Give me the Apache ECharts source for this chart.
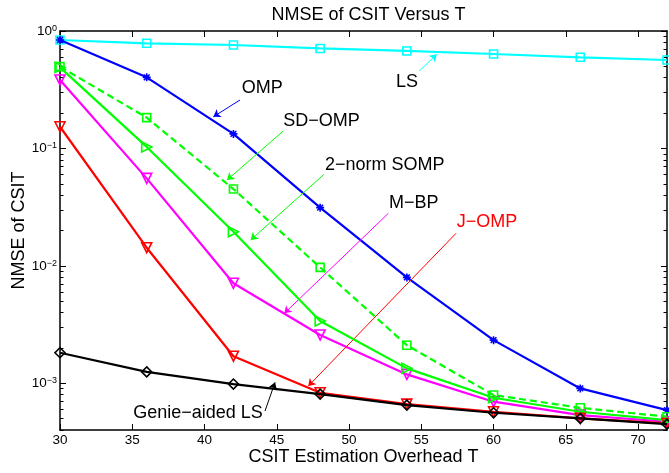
<!DOCTYPE html>
<html>
<head>
<meta charset="utf-8">
<script src="https://cdn.jsdelivr.net/npm/echarts@6/dist/echarts.min.js"></script>
<style>
html,body{margin:0;padding:0;background:#fff;}
#chart{width:669px;height:473px;}
</style>
</head>
<body>
<div id="chart"></div>
<script>
// ---- data ----
const T = [30, 36, 42, 48, 54, 60, 66, 72];
const lsVals = [0.838, 0.786, 0.76, 0.71, 0.676, 0.637, 0.597, 0.566];
const ompVals = [0.838, 0.403, 0.133, 0.0313, 0.00797, 0.00233, 9.04e-4, 5.9e-4];
const sdOmpVals = [0.497, 0.183, 0.0451, 0.0097, 0.00211, 7.94e-4, 6.18e-4, 5.19e-4];
const sompVals = [0.49, 0.103, 0.0195, 0.00339, 0.00134, 7.53e-4, 5.72e-4, 4.86e-4];
const mbpVals = [0.383, 0.0556, 0.0071, 0.00258, 0.00119, 6.97e-4, 5.36e-4, 4.7e-4];
const jompVals = [0.153, 0.01427, 0.0017, 8.3e-4, 6.65e-4, 5.72e-4, 5.02e-4, 4.55e-4];
const genieVals = [0.00182, 0.00125, 9.85e-4, 8.09e-4, 6.52e-4, 5.61e-4, 5.02e-4, 4.49e-4];

const xTicks = [30, 35, 40, 45, 50, 55, 60, 65, 70];
const yMajorTicks = [1e-3, 1e-2, 1e-1, 1];
const yMinorTicks = [4e-4,5e-4,6e-4,7e-4,8e-4,9e-4,
  2e-3,3e-3,4e-3,5e-3,6e-3,7e-3,8e-3,9e-3,
  2e-2,3e-2,4e-2,5e-2,6e-2,7e-2,8e-2,9e-2,
  0.2,0.3,0.4,0.5,0.6,0.7,0.8,0.9];

// annotation anchors (data coordinates): text anchor, arrow start, arrow tip
const annText = ['OMP', 'SD\u2212OMP', '2\u2212norm SOMP', 'M\u2212BP', 'J\u2212OMP', 'LS', 'Genie\u2212aided LS'];
const annTextAt = [[42.57, 0.327], [45.45, 0.1712], [48.34, 0.0722], [52.765, 0.0343], [57.45, 0.02375], [53.25, 0.37], [35.07, 5.54e-4]];
const annFrom = [[42.455, 0.2583], [45.45, 0.1407], [48.27, 0.0602], [52.72, 0.028], [57.40, 0.0189], [54.86, 0.456], [44.185, 5.8e-4]];
const annTo = [[40.61, 0.1862], [41.556, 0.0538], [43.195, 0.0166], [45.52, 0.00394], [47.18, 9.47e-4], [56.07, 0.633], [44.877, 1.018e-3]];
const annLineColor = ['#0000FF', '#00FF00', '#00FF00', '#FF00FF', '#FF0000', '#00FFFF', '#000000'];
const annTextColor = ['#000', '#000', '#000', '#000', '#FF0000', '#000', '#000'];

const FONT = "'Liberation Sans', Arial, Helvetica, sans-serif";
const pairs = v => T.map((t, i) => [t, v[i]]);
const star = 'path://M0,-5L0,5M-5,0L5,0M-3.6,-3.6L3.6,3.6M-3.6,3.6L3.6,-3.6';
const rectP = 'path://M-5,-5L5,-5L5,5L-5,5Z';
const diamondP = 'path://M0,-6L4.5,0L0,6L-4.5,0Z';
const triP = 'path://M0,-5L5.2,4L-5.2,4Z';

function mkSeries(name, vals, color, symbol, size, rotate, dashed, z) {
  return {
    name, type: 'line', data: pairs(vals), xAxisIndex: 0, yAxisIndex: 0,
    symbol, symbolSize: size, symbolRotate: rotate || 0, showAllSymbol: true,
    z: z,
    lineStyle: { color, width: 2.2, type: dashed ? [7, 4] : 'solid' },
    itemStyle: { color: 'rgba(0,0,0,0)', borderColor: color, borderWidth: 1.6 },
    emphasis: { disabled: true },
    animation: false
  };
}

function yLabel(v) {
  const e = Math.round(Math.log10(v));
  return '{b|10}{s|' + (e === 0 ? '0' : '\u2212' + (-e)) + '}';
}

const logAxisBase = { type: 'log', logBase: 10, min: 4e-4, max: 1, splitLine: { show: false }, gridIndex: 0 };
const chart = echarts.init(document.getElementById('chart'), null, { renderer: 'canvas' });

const option = {
  animation: false,
  backgroundColor: '#fff',
  textStyle: { fontFamily: FONT },
  title: {
    text: 'NMSE of CSIT Versus T',
    left: 363.5, top: 1, textAlign: 'center',
    textStyle: { fontFamily: FONT, fontSize: 18, fontWeight: 'normal', color: '#000' }
  },
  grid: { left: 60, right: 2, top: 31, bottom: 43, containLabel: false, outerBoundsMode: 'none' },
  xAxis: [
    {
      type: 'value', min: 30, max: 72, position: 'bottom',
      name: 'CSIT Estimation Overhead T', nameLocation: 'middle', nameGap: 18, nameMoveOverlap: false,
      nameTextStyle: { fontFamily: FONT, fontSize: 18, color: '#000' },
      axisLine: { show: true, lineStyle: { color: '#000', width: 1.5 } },
      axisTick: { show: true, inside: true, length: 6, customValues: xTicks, lineStyle: { color: '#000', width: 1 } },
      axisLabel: { show: true, customValues: xTicks, margin: 3, fontFamily: FONT, fontSize: 13.5, color: '#000' },
      splitLine: { show: false }
    },
    {
      type: 'value', min: 30, max: 72, position: 'top',
      axisLine: { show: true, lineStyle: { color: '#000', width: 1.5 } },
      axisTick: { show: true, inside: true, length: 6, customValues: xTicks, lineStyle: { color: '#000', width: 1 } },
      axisLabel: { show: false },
      splitLine: { show: false }
    }
  ],
  yAxis: [
    Object.assign({}, logAxisBase, {
      position: 'left',
      name: 'NMSE of CSIT', nameLocation: 'middle', nameGap: 32, nameRotate: 90, nameMoveOverlap: false,
      nameTextStyle: { fontFamily: FONT, fontSize: 18, color: '#000' },
      axisLine: { show: true, lineStyle: { color: '#000', width: 1.5 } },
      axisTick: { show: true, inside: true, length: 6, customValues: yMajorTicks, lineStyle: { color: '#000', width: 1 } },
      axisLabel: {
        show: true, customValues: yMajorTicks, margin: 3, formatter: yLabel,
        rich: {
          b: { fontFamily: FONT, fontSize: 13.5, color: '#000', lineHeight: 14, verticalAlign: 'bottom' },
          s: { fontFamily: FONT, fontSize: 9, color: '#000', lineHeight: 14, verticalAlign: 'top', padding: [0, 0, 9, 0] }
        }
      }
    }),
    Object.assign({}, logAxisBase, {
      position: 'left', offset: 0,
      axisLine: { show: false },
      axisTick: { show: true, inside: true, length: 3.5, customValues: yMinorTicks, lineStyle: { color: '#000', width: 1 } },
      axisLabel: { show: false }
    }),
    Object.assign({}, logAxisBase, {
      position: 'right', offset: 0,
      axisLine: { show: true, lineStyle: { color: '#000', width: 1.5 } },
      axisTick: { show: true, inside: true, length: 6, customValues: yMajorTicks, lineStyle: { color: '#000', width: 1 } },
      axisLabel: { show: false }
    }),
    Object.assign({}, logAxisBase, {
      position: 'right', offset: 0,
      axisLine: { show: false },
      axisTick: { show: true, inside: true, length: 3.5, customValues: yMinorTicks, lineStyle: { color: '#000', width: 1 } },
      axisLabel: { show: false }
    })
  ],
  series: [
    mkSeries('LS', lsVals, '#00FFFF', rectP, 8, 0, false, 2),
    mkSeries('OMP', ompVals, '#0000FF', star, 8, 0, false, 3),
    mkSeries('SD-OMP', sdOmpVals, '#00FF00', rectP, 8, 0, true, 4),
    mkSeries('2-norm SOMP', sompVals, '#00FF00', triP, 10, -90, false, 5),
    mkSeries('M-BP', mbpVals, '#FF00FF', triP, 10, 180, false, 4),
    mkSeries('J-OMP', jompVals, '#FF0000', triP, 10, 180, false, 5),
    mkSeries('Genie-aided LS', genieVals, '#000000', diamondP, 10, 0, false, 6),
    {
      name: 'annotations', type: 'line', data: [], xAxisIndex: 0, yAxisIndex: 0, z: 7,
      markLine: {
        silent: true, animation: false,
        symbol: ['none', 'arrow'], symbolSize: 7,
        label: { show: false },
        data: annFrom.map((f, i) => [
          { coord: f, lineStyle: { color: annLineColor[i], width: 1, type: 'solid' }, itemStyle: { color: annLineColor[i] } },
          { coord: annTo[i] }
        ])
      }
    }
  ]
};
chart.setOption(option);

const texts = annText.map((t, i) => {
  const p = chart.convertToPixel({ xAxisIndex: 0, yAxisIndex: 0 }, annTextAt[i]);
  return {
    type: 'text', x: p[0], y: p[1], z: 100,
    style: { text: t, fill: annTextColor[i], font: '18px ' + FONT, textAlign: 'left', textVerticalAlign: 'middle' }
  };
});
chart.setOption({ graphic: texts });
</script>
</body>
</html>
